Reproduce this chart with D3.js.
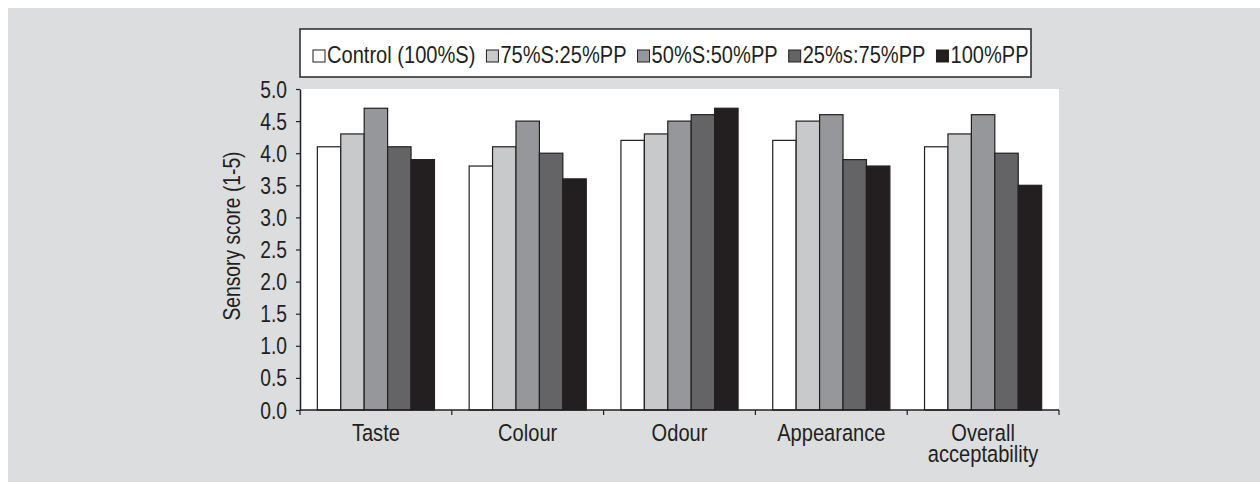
<!DOCTYPE html>
<html>
<head>
<meta charset="utf-8">
<script src="https://cdn.jsdelivr.net/npm/d3@7"></script>
<style>
  html, body { margin: 0; padding: 0; background: #ffffff; }
  svg { display: block; }
</style>
</head>
<body>
<svg id="chart" width="1260" height="482"></svg>
<script>
// Sensory scores per attribute for each blend
const categories = ["Taste", "Colour", "Odour", "Appearance", "Overall acceptability"];
const seriesNames = ["Control (100%S)", "75%S:25%PP", "50%S:50%PP", "25%s:75%PP", "100%PP"];
const control100S = [4.1, 3.8, 4.2, 4.2, 4.1];
const s75pp25 = [4.3, 4.1, 4.3, 4.5, 4.3];
const s50pp50 = [4.7, 4.5, 4.5, 4.6, 4.6];
const s25pp75 = [4.1, 4.0, 4.6, 3.9, 4.0];
const pp100 = [3.9, 3.6, 4.7, 3.8, 3.5];
const yTicks = [0, 0.5, 1.0, 1.5, 2.0, 2.5, 3.0, 3.5, 4.0, 4.5, 5.0];
const seriesColors = ["#ffffff", "#c8c9cb", "#96979a", "#646466", "#231f20"];

const seriesValues = [control100S, s75pp25, s50pp50, s25pp75, pp100];
const ink = "#231f20";

const svg = d3.select("#chart");

// Pick a condensed face; fall back to horizontally squeezed Liberation Sans
const probe = svg.append("text").attr("font-size", 23).text("Appearance");
probe.attr("font-family", "'Liberation Sans'");
const wideW = probe.node().getComputedTextLength();
probe.attr("font-family", "'Liberation Sans Narrow', 'Arial Narrow', 'Liberation Sans'");
const narrowW = probe.node().getComputedTextLength();
probe.remove();
const hasNarrow = narrowW < wideW * 0.92;
const fontFamily = hasNarrow ? "'Liberation Sans Narrow', 'Arial Narrow', sans-serif" : "'Liberation Sans', Arial, sans-serif";
const squeeze = hasNarrow ? 1 : 0.82;

// Place a text element at (x, y) with optional rotation and horizontal squeeze
function label(parent, x, y, str, opts = {}) {
  const rot = opts.rotate || 0;
  return parent.append("text")
    .attr("transform", `translate(${x},${y}) rotate(${rot}) scale(${squeeze},1)`)
    .attr("text-anchor", opts.anchor || "middle")
    .attr("font-family", fontFamily)
    .attr("font-size", opts.size || 23)
    .attr("fill", ink)
    .text(str);
}

// Grey panel
svg.append("rect").attr("x", 8).attr("y", 8).attr("width", 1252).attr("height", 474).attr("fill", "#dcdddf");

// Scales
const plotLeft = 300, plotRight = 1059, plotTop = 89, plotBottom = 410;
const x0 = d3.scaleBand().domain(categories).range([plotLeft, plotRight]).paddingInner(0).paddingOuter(0);
const x1 = d3.scaleBand().domain(seriesNames).range([0, x0.bandwidth()]).paddingInner(0).paddingOuter(0.74);
const y = d3.scaleLinear().domain([0, 5]).range([plotBottom, plotTop]);

// Plot area
svg.append("rect")
  .attr("x", plotLeft).attr("y", plotTop)
  .attr("width", plotRight - plotLeft).attr("height", plotBottom - plotTop)
  .attr("fill", "#ffffff");

// Bars
const groups = svg.append("g").selectAll("g")
  .data(categories)
  .join("g")
  .attr("transform", d => `translate(${x0(d)},0)`);

groups.selectAll("rect")
  .data((c, ci) => seriesNames.map((s, si) => ({ s, si, v: seriesValues[si][ci] })))
  .join("rect")
  .attr("x", d => x1(d.s))
  .attr("y", d => y(d.v))
  .attr("width", x1.bandwidth())
  .attr("height", d => y(0) - y(d.v))
  .attr("fill", d => seriesColors[d.si])
  .attr("stroke", ink)
  .attr("stroke-width", 1.2);

// Y axis
const yAxis = svg.append("g")
  .attr("transform", `translate(${plotLeft},0)`)
  .call(d3.axisLeft(y).tickValues(yTicks).tickFormat(d3.format(".1f")).tickSize(4).tickSizeOuter(0).tickPadding(10));
yAxis.select(".domain").attr("stroke", ink).attr("stroke-width", 1.5);
yAxis.selectAll(".tick line").attr("stroke", ink).attr("stroke-width", 1.2);
yAxis.selectAll(".tick text").remove();
yAxis.selectAll(".tick").each(function (d) {
  label(d3.select(this), -13, 8, d3.format(".1f")(d), { anchor: "end", size: 23.5 });
});

// X axis: baseline and category boundary ticks
const xAxis = svg.append("g").attr("transform", `translate(0,${plotBottom})`);
xAxis.append("line")
  .attr("x1", plotLeft).attr("x2", plotRight)
  .attr("stroke", ink).attr("stroke-width", 1.5);
const boundaries = categories.map(c => x0(c)).concat([x0.range()[1]]);
xAxis.selectAll(".bt")
  .data(boundaries)
  .join("line")
  .attr("class", "bt")
  .attr("x1", d => d).attr("x2", d => d)
  .attr("y1", 0).attr("y2", 5)
  .attr("stroke", ink).attr("stroke-width", 1.2);

// Category labels
categories.forEach(c => {
  const lines = c.split(" ");
  lines.forEach((ln, i) => {
    label(svg, x0(c) + x0.bandwidth() / 2, 441 + i * 21, ln, { size: 24.5 });
  });
});

// Y axis title
label(svg, 240, 236, "Sensory score (1-5)", { rotate: -90, size: 23.5 });

// Legend
const legend = svg.append("g");
legend.append("rect")
  .attr("x", 300).attr("y", 29).attr("width", 731).attr("height", 48)
  .attr("fill", "#ffffff").attr("stroke", "#333333").attr("stroke-width", 1.6);

const legendSize = 24.5;
let lx = 313;
seriesNames.forEach((name, i) => {
  legend.append("rect")
    .attr("x", lx).attr("y", 50).attr("width", 12).attr("height", 12)
    .attr("fill", seriesColors[i]).attr("stroke", ink).attr("stroke-width", 1);
  const t = label(legend, lx + 14, 63, name, { anchor: "start", size: legendSize });
  const w = t.node().getComputedTextLength() * squeeze;
  lx += 14 + w + 11;
});
</script>
</body>
</html>
